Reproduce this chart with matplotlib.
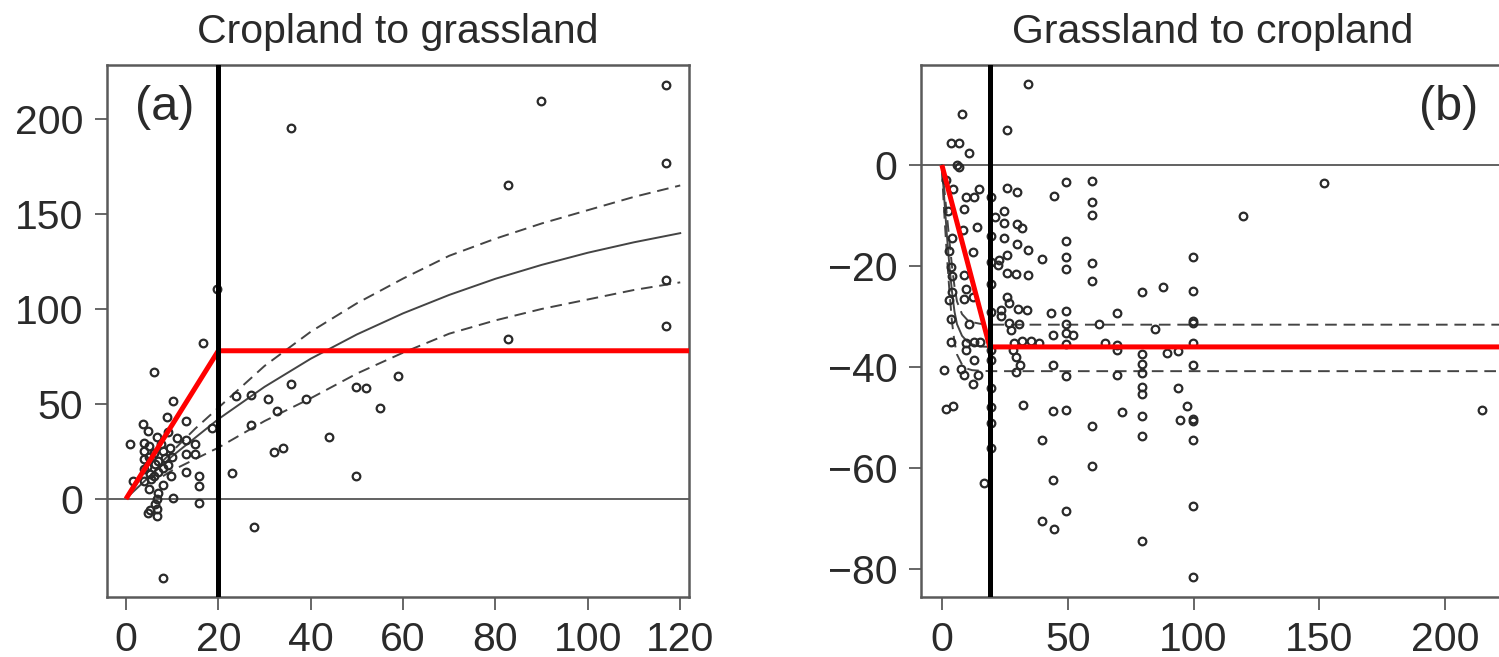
import matplotlib
matplotlib.use("Agg")
import matplotlib.pyplot as plt

plt.rcParams['font.family'] = ['Liberation Sans', 'DejaVu Sans']

# ---- panel (a): cropland to grassland ----
a_x = [0.9, 1.6, 3.7, 4.8, 3.9, 3.9, 3.9, 3.9, 3.9, 5.4, 5.2, 6.2, 6.8, 8.0, 8.4,
       8.0, 8.8, 6.0, 10.1, 12.9, 12.9, 15.0, 12.9, 15.0, 12.9, 15.9, 15.9, 8.0,
       10.1, 15.9, 6.8, 6.2, 6.8, 4.7, 5.2, 6.8, 8.0, 16.7, 18.6, 19.8, 22.9,
       23.9, 27.0, 30.8, 35.7, 32.8, 27.0, 38.9, 49.9, 51.9, 58.8, 55.0, 44.0,
       32.0, 34.1, 49.9, 27.8, 35.7, 117.0, 89.8, 117.0, 82.8, 117.0, 117.0, 82.8,
       5.0, 6.0, 7.0, 5.0, 7.0, 9.0, 9.5, 10.0, 4.5, 6.0, 7.5, 5.0, 7.0, 9.0, 11.0, 9.8]
a_y = [28.8, 9.5, 39.3, 35.8, 29.6, 25.3, 20.8, 15.6, 9.5, 10.4, 13.0, 18.2, 32.6,
       25.3, 21.7, 16.5, 43.2, 66.8, 51.6, 41.0, 30.9, 29.1, 23.5, 23.5, 14.2, 12.1,
       6.8, 7.4, 0.7, -1.9, -0.2, -2.8, -5.4, -7.2, -6.0, -9.0, -41.4, 82.3, 37.2,
       110.5, 13.5, 54.0, 54.7, 52.8, 60.7, 46.3, 39.0, 52.8, 59.1, 58.6, 64.7, 48.0,
       32.6, 24.9, 27.0, 12.1, -14.7, 195.0, 217.7, 209.3, 176.8, 165.3, 115.0, 91.2,
       84.0, 28.0, 24.0, 20.0, 22.0, 14.0, 18.0, 27.0, 22.0, 17.0, 12.0, 29.0, 5.0,
       3.0, 35.0, 32.0, 12.0]

a_curve_x = [1, 5, 10, 20, 30, 40, 50, 60, 70, 80, 90, 100, 110, 120]
a_fit = [2.5, 11.6, 22.5, 42, 59, 73.8, 86.6, 97.7, 107.4, 115.9, 123.2, 129.6, 135.1, 139.9]
a_up_x = [8, 10, 15, 20, 30, 40, 50, 60, 70, 80, 90, 100, 110, 120]
a_up = [20, 25, 37, 48, 70, 88, 103, 116, 128, 137, 145, 152, 159, 165]
a_lo = [12, 15, 21, 27, 41, 53, 66, 77, 87, 94, 100, 105, 110, 114]
a_red_x = [0, 20, 121.9]
a_red_y = [0, 78, 78]

# ---- panel (b): grassland to cropland ----
b_x = [34.4, 7.9, 25.8, 3.6, 6.9, 10.8, 6.2, 6.6, 4.6, 14.8, 9.5, 12.6, 19.5, 25.8,
       29.7, 44.6, 8.6, 21.0, 24.5, 24.5, 29.7, 31.7, 8.2, 13.9, 3.9, 19.5, 24.5,
       29.7, 34.4, 12.2, 25.8, 39.6, 19.5, 22.8, 3.6, 8.9, 22.4, 25.8, 29.4, 34.4,
       19.5, 3.9, 9.5, 2.9, 8.9, 12.2, 25.8, 26.8, 23.5, 30.1, 34.0, 43.3, 19.5,
       23.5, 3.6, 10.8, 26.8, 30.7, 27.4, 44.0, 9.5, 12.8, 15.2, 9.5, 28.7, 32.0,
       35.4, 38.7, 28.1, 29.4, 19.5, 19.5, 12.6, 31.1, 44.0, 0.7, 7.5, 8.9, 14.2,
       29.4, 12.4, 19.5, 19.5, 1.6, 4.5, 32.4, 44.0, 19.5, 39.6, 19.5, 16.6, 44.0,
       39.6, 44.5, 49.5, 59.5, 59.5, 59.5, 49.5, 49.5, 49.5, 59.5, 59.5, 99.6, 99.6,
       79.7, 87.7, 49.5, 69.7, 49.5, 62.5, 84.6, 99.6, 99.6, 49.5, 51.9, 64.8, 69.4,
       99.6, 49.5, 69.7, 79.7, 89.5, 93.9, 79.7, 49.5, 69.7, 79.7, 99.6, 79.7, 79.7,
       93.9, 97.5, 49.5, 71.5, 79.7, 94.6, 99.6, 99.6, 59.5, 79.7, 99.6, 59.5, 99.6,
       49.5, 79.7, 99.6, 151.7, 119.6, 214.6, 2.5, 3.0, 1.5, 4.0, 3.5]
b_y = [16.0, 10.2, 6.9, 4.4, 4.3, 2.3, 0.1, -0.3, -4.8, -4.8, -6.4, -6.3, -6.3, -4.5,
       -5.3, -6.1, -8.7, -10.2, -9.1, -11.5, -11.7, -12.4, -12.9, -12.2, -14.5, -14.0,
       -14.4, -15.6, -16.8, -17.2, -17.8, -18.5, -19.1, -18.8, -20.1, -21.8, -19.8,
       -21.4, -21.6, -21.8, -23.6, -25.1, -24.6, -26.7, -26.6, -26.1, -26.1, -27.3,
       -28.7, -28.4, -28.7, -29.2, -29.0, -29.9, -30.4, -31.5, -31.2, -31.4, -32.7,
       -33.7, -35.3, -35.0, -35.0, -36.6, -35.2, -34.9, -34.9, -35.3, -36.6, -38.0,
       -36.6, -38.6, -38.6, -39.5, -39.6, -40.6, -40.3, -41.6, -41.6, -40.9, -43.4,
       -44.2, -47.9, -48.2, -47.7, -47.4, -48.6, -51.0, -54.5, -56.0, -62.9, -62.4,
       -70.4, -72.1, -3.3, -3.2, -7.3, -9.8, -15.0, -18.3, -20.6, -19.3, -22.9, -18.3,
       -24.9, -25.2, -24.1, -28.9, -29.2, -31.4, -31.5, -32.5, -30.9, -31.3, -33.3,
       -33.7, -35.2, -35.6, -35.2, -35.5, -36.6, -37.4, -37.3, -36.8, -39.4, -41.8,
       -41.6, -41.1, -39.5, -44.0, -45.4, -44.1, -47.6, -48.4, -48.8, -49.7, -50.5,
       -50.3, -50.7, -51.6, -53.7, -54.5, -59.5, -67.5, -68.4, -74.4, -81.5, -3.5,
       -10.0, -48.4, -9.0, -17.0, -3.0, -22.0, -35.0]

b_curve_x = [0, 1, 2, 3, 4, 5, 6, 8, 10, 12, 15, 19, 230]
b_fit = [0, -7, -14, -20, -25, -29, -31.5, -33.8, -34.9, -35.5, -35.9, -36, -36]
b_up = [0, -5, -10, -15, -20, -24, -27, -29.5, -30.6, -31.1, -31.4, -31.6, -31.6]
b_lo = [-1, -10, -18, -25, -31, -35, -37.5, -39.5, -40.3, -40.6, -40.7, -40.8, -40.8]
b_red_x = [0, 19, 230]
b_red_y = [0, -36, -36]

fig = plt.figure(figsize=(14.99, 6.57), dpi=100)
ax1 = fig.add_axes([107/1499, 1-597/657, 582/1499, 532/657])
ax2 = fig.add_axes([921/1499, 1-597/657, 593/1499, 532/657])

pt_style = dict(ls='none', marker='o', ms=5.5, mfc='none', mec='#2a2a2a', mew=1.6)
dash = (0, (6, 3.5))
text_col = '#2a2a2a'

# (a)
ax1.axhline(0, color='#555555', lw=1.3, zorder=1)
ax1.plot(a_curve_x, a_fit, color='#444444', lw=1.4, zorder=2)
ax1.plot(a_up_x, a_up, color='#444444', lw=1.4, ls=dash, zorder=2)
ax1.plot(a_up_x, a_lo, color='#444444', lw=1.4, ls=dash, zorder=2)
ax1.plot(a_x, a_y, zorder=3, **pt_style)
ax1.plot(a_red_x, a_red_y, color='#ff0000', lw=3.6, zorder=4, solid_capstyle='butt')
ax1.axvline(20, color='black', lw=3.6, zorder=5)
ax1.set_xlim(-4.1, 121.9)
ax1.set_ylim(-51.6, 228.4)
ax1.set_xticks([0, 20, 40, 60, 80, 100, 120])
ax1.set_yticks([0, 50, 100, 150, 200])
ax1.set_title('Cropland to grassland', fontsize=29.5, pad=16, color=text_col)

# (b)
ax2.axhline(0, color='#555555', lw=1.3, zorder=1)
ax2.plot(b_curve_x, b_fit, color='#444444', lw=1.4, zorder=2)
ax2.plot(b_curve_x, b_up, color='#444444', lw=1.4, ls=dash, zorder=2)
ax2.plot(b_curve_x, b_lo, color='#444444', lw=1.4, ls=dash, zorder=2)
ax2.plot(b_x, b_y, zorder=3, **pt_style)
ax2.plot(b_red_x, b_red_y, color='#ff0000', lw=3.6, zorder=4, solid_capstyle='butt')
ax2.axvline(19, color='black', lw=3.6, zorder=5)
ax2.set_xlim(-8.3, 227.3)
ax2.set_ylim(-85.5, 19.8)
ax2.set_xticks([0, 50, 100, 150, 200])
ax2.set_yticks([0, -20, -40, -60, -80])
ax2.set_title('Grassland to cropland', fontsize=29.5, pad=16, color=text_col,
              x=(1213-921)/593)

for ax in (ax1, ax2):
    for s in ax.spines.values():
        s.set_color('#5a5a5a')
        s.set_linewidth(1.8)
    ax.tick_params(direction='out', length=9, width=1.3, color='#5a5a5a',
                   labelsize=29.5, labelcolor=text_col, pad=8)

fig.text(135/1499, 1-108/657, '(a)', fontsize=35, ha='left', va='center', color=text_col)
fig.text(1478/1499, 1-108/657, '(b)', fontsize=35, ha='right', va='center', color=text_col)

fig.savefig('out.png', dpi=100)
